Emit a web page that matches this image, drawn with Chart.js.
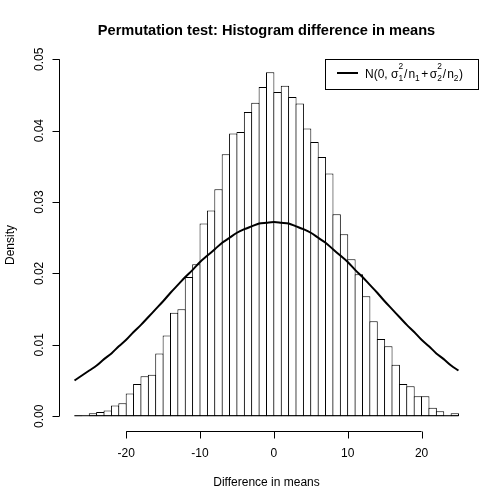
<!DOCTYPE html>
<html>
<head>
<meta charset="utf-8">
<script src="https://cdn.jsdelivr.net/npm/chart.js@4.4.1/dist/chart.umd.min.js"></script>
<style>
  html, body { margin: 0; padding: 0; background: #ffffff; }
  #wrap { width: 504px; height: 504px; position: relative; }
</style>
</head>
<body>
<div id="wrap"><canvas id="histChart"></canvas></div>
<script>
// histogram bins (mid points, width 1) and their densities
const binMids = [
  -26.5, -25.5, -24.5, -23.5, -22.5, -21.5, -20.5, -19.5, -18.5, -17.5,
  -16.5, -15.5, -14.5, -13.5, -12.5, -11.5, -10.5, -9.5, -8.5, -7.5,
  -6.5, -5.5, -4.5, -3.5, -2.5, -1.5, -0.5, 0.5, 1.5, 2.5,
  3.5, 4.5, 5.5, 6.5, 7.5, 8.5, 9.5, 10.5, 11.5, 12.5,
  13.5, 14.5, 15.5, 16.5, 17.5, 18.5, 19.5, 20.5, 21.5, 22.5,
  23.5, 24.5
];
const densities = [
  0.0001, 0.0000, 0.0004, 0.0006, 0.0008, 0.0015, 0.0018, 0.0032, 0.0045, 0.0056,
  0.0058, 0.0088, 0.0113, 0.0145, 0.0150, 0.0195, 0.0213, 0.0270, 0.0288, 0.0318,
  0.0367, 0.0396, 0.0398, 0.0426, 0.0439, 0.0461, 0.0482, 0.0454, 0.0463, 0.0447,
  0.0438, 0.0403, 0.0384, 0.0363, 0.0340, 0.0283, 0.0255, 0.0220, 0.0199, 0.0168,
  0.0133, 0.0108, 0.0098, 0.0072, 0.0045, 0.0042, 0.0028, 0.0028, 0.0012, 0.0007,
  0.0001, 0.0004
];

// normal curve
const curveX = [
  -27, -26, -25, -24, -23, -22, -21, -20, -19, -18, -17, -16, -15, -14, -13, -12, -11, -10,
  -9, -8, -7, -6, -5, -4, -3, -2, -1, 0, 1, 2, 3, 4, 5, 6, 7, 8,
  9, 10, 11, 12, 13, 14, 15, 16, 17, 18, 19, 20, 21, 22, 23, 24, 25
];
const curveY = [
  0.0050, 0.0057, 0.0064, 0.0071, 0.0080, 0.0088, 0.0098, 0.0107, 0.0118, 0.0128,
  0.0139, 0.0150, 0.0161, 0.0173, 0.0184, 0.0195, 0.0205, 0.0216, 0.0225, 0.0234,
  0.0243, 0.0250, 0.0257, 0.0262, 0.0266, 0.0270, 0.0271, 0.0272, 0.0271, 0.0270,
  0.0266, 0.0262, 0.0257, 0.0250, 0.0243, 0.0234, 0.0225, 0.0216, 0.0205, 0.0195,
  0.0184, 0.0173, 0.0161, 0.0150, 0.0139, 0.0128, 0.0118, 0.0107, 0.0098, 0.0088,
  0.0080, 0.0071, 0.0064
];

const xTicks = [-20, -10, 0, 10, 20];
const yTicks = [0.00, 0.01, 0.02, 0.03, 0.04, 0.05];
const yTickLabels = ['0.00', '0.01', '0.02', '0.03', '0.04', '0.05'];

const FONT = '"Liberation Sans", Arial, sans-serif';

// R style axes, titles and legend
const rDecor = {
    id: 'rDecor',
    afterDraw(chart) {
        const ctx = chart.ctx;
        const a = chart.chartArea;
        const xs = chart.scales.x;
        const ys = chart.scales.y;
        ctx.save();
        ctx.strokeStyle = '#000000';
        ctx.fillStyle = '#000000';
        ctx.lineWidth = 1;

        // histogram baseline (empty bins still show their bottom edge)
        const y0 = ys.getPixelForValue(0) - 0.5;
        ctx.beginPath();
        ctx.moveTo(xs.getPixelForValue(binMids[0] - 0.5), y0);
        ctx.lineTo(xs.getPixelForValue(binMids[binMids.length - 1] + 0.5), y0);
        ctx.stroke();

        // x axis
        const yb = Math.round(a.bottom) + 0.5;
        ctx.beginPath();
        ctx.moveTo(xs.getPixelForValue(xTicks[0]), yb);
        ctx.lineTo(xs.getPixelForValue(xTicks[xTicks.length - 1]), yb);
        xTicks.forEach(t => {
            const px = Math.round(xs.getPixelForValue(t)) + 0.5;
            ctx.moveTo(px, yb);
            ctx.lineTo(px, yb + 7);
        });
        ctx.stroke();
        ctx.font = '12px ' + FONT;
        ctx.textAlign = 'center';
        ctx.textBaseline = 'alphabetic';
        xTicks.forEach(t => {
            ctx.fillText(String(t), xs.getPixelForValue(t), 457);
        });

        // y axis
        const xl = Math.round(a.left) + 0.5;
        ctx.beginPath();
        ctx.moveTo(xl, ys.getPixelForValue(yTicks[0]));
        ctx.lineTo(xl, ys.getPixelForValue(yTicks[yTicks.length - 1]));
        yTicks.forEach(t => {
            const py = Math.round(ys.getPixelForValue(t)) + 0.5;
            ctx.moveTo(xl, py);
            ctx.lineTo(xl - 7, py);
        });
        ctx.stroke();
        yTicks.forEach((t, i) => {
            ctx.save();
            ctx.translate(43, ys.getPixelForValue(t));
            ctx.rotate(-Math.PI / 2);
            ctx.fillText(yTickLabels[i], 0, 0);
            ctx.restore();
        });

        // axis titles
        ctx.fillText('Difference in means', (a.left + a.right) / 2, 486);
        ctx.save();
        ctx.translate(14, 245);
        ctx.rotate(-Math.PI / 2);
        ctx.fillText('Density', 0, 0);
        ctx.restore();

        // main title
        ctx.font = 'bold 14.6px ' + FONT;
        ctx.fillText('Permutation test: Histogram difference in means', (a.left + a.right) / 2, 35);

        // legend
        const top = Math.round(ys.getPixelForValue(0.05)) + 0.5;
        const right = Math.round(a.right) + 4.5;
        const left = 325.5;
        ctx.strokeRect(left, top, right - left, 30);
        ctx.lineWidth = 2;
        ctx.beginPath();
        ctx.moveTo(337, top + 13.5);
        ctx.lineTo(358, top + 13.5);
        ctx.stroke();

        const base = top + 18.5;
        const main = '12px ' + FONT;
        const small = '8.4px ' + FONT;
        let cx = 365;
        ctx.textAlign = 'left';
        const put = (txt, font, dy) => {
            ctx.font = font;
            ctx.fillText(txt, cx, base + dy);
            return ctx.measureText(txt).width;
        };
        const scripts = (sup, sub) => {
            ctx.font = small;
            ctx.fillText(sup, cx, base - 9);
            ctx.fillText(sub, cx, base + 3);
            return Math.max(ctx.measureText(sup).width, ctx.measureText(sub).width);
        };
        cx += put('N(0, ', main, 0);
        cx += put('\u03c3', main, 0);
        cx += scripts('2', '1') + 1;
        cx += put('/', main, 0) + 1;
        cx += put('n', main, 0);
        cx += put('1', small, 3) + 1.5;
        cx += put('+', main, 0) + 1.5;
        cx += put('\u03c3', main, 0);
        cx += scripts('2', '2') + 1;
        cx += put('/', main, 0) + 1;
        cx += put('n', main, 0);
        cx += put('2', small, 3) + 0.5;
        put(')', main, 0);

        ctx.restore();
    }
};

const ctx = document.getElementById('histChart').getContext('2d');
const histChart = new Chart(ctx, {
    data: {
        datasets: [
            {
                type: 'line',
                label: 'normal',
                data: curveX.map((x, i) => ({ x: x, y: curveY[i] })),
                borderColor: '#000000',
                borderWidth: 2,
                pointRadius: 0,
                tension: 0.3,
                fill: false,
                order: 0
            },
            {
                type: 'bar',
                label: 'hist',
                data: binMids.map((x, i) => ({ x: x, y: densities[i] })),
                backgroundColor: '#ffffff',
                borderColor: '#000000',
                borderWidth: 1,
                borderSkipped: false,
                inflateAmount: 0,
                // one unit plus one pixel, so neighbouring outlines overlap into a single line
                barPercentage: 1.136,
                categoryPercentage: 1,
                order: 1
            }
        ]
    },
    options: {
        responsive: true,
        maintainAspectRatio: false,
        animation: false,
        events: [],
        layout: {
            padding: { left: 59, right: 30, top: 45, bottom: 73.5 }
        },
        plugins: {
            legend: { display: false },
            tooltip: { enabled: false },
            title: { display: false }
        },
        scales: {
            x: {
                type: 'linear',
                display: false,
                offset: false,
                grid: { offset: false },
                min: -29.1,
                max: 27.1
            },
            y: {
                type: 'linear',
                display: false,
                min: -0.002,
                max: 0.052
            }
        }
    },
    plugins: [rDecor]
});
</script>
</body>
</html>
